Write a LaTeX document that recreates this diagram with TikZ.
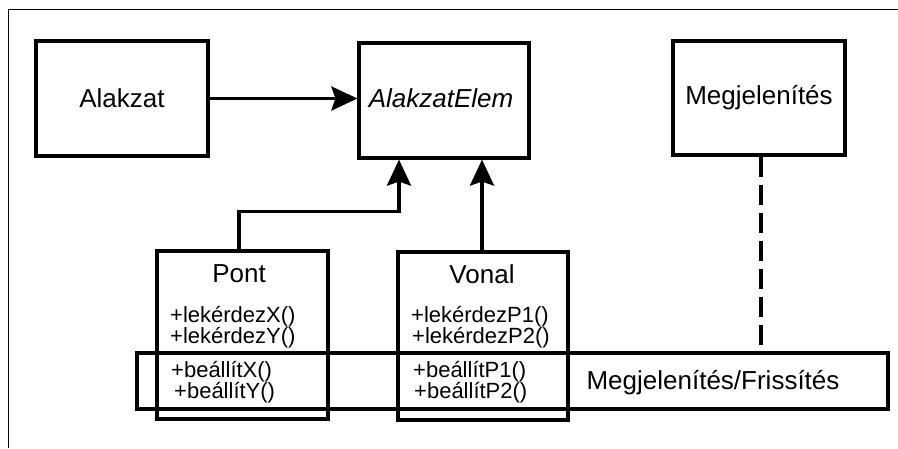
\documentclass[tikz,border=0pt]{standalone}
\usepackage{fontspec}
\setmainfont{Liberation Sans}
\usetikzlibrary{arrows.meta}
\begin{document}
\begin{tikzpicture}[x=1pt,y=-1pt,
  box/.style={draw, line width=3.2pt, inner sep=0pt, rectangle, font=\fontsize{26}{28}\selectfont},
  lbl/.style={inner sep=0pt, font=\fontsize{26}{28}\selectfont},
  meth/.style={inner sep=0pt, anchor=west, font=\fontsize{22}{24}\selectfont},
  conn/.style={line width=3.2pt, -{Stealth[length=26pt,width=24pt,inset=4pt]}},
  dep/.style={line width=3.2pt, dash pattern=on 20pt off 8pt}]
\useasboundingbox (0,0) rectangle (898,448);
\draw[line width=1pt] (8,448) -- (8,9) -- (898,9);
\node[box, minimum width=172pt, minimum height=115pt] (alakzat) at (122,98.5) {Alakzat};
\node[box, minimum width=170pt, minimum height=115pt] (elem) at (444,100.5) {};
\node[lbl] (elemtext) at (441,98) {\itshape AlakzatElem};
\node[box, minimum width=172pt, minimum height=114pt] (megj) at (759,98) {Megjelenítés};
\node[box, minimum width=171pt, minimum height=168pt] (pont) at (242.5,335) {};
\node[box, minimum width=170pt, minimum height=168pt] (vonal) at (483,336) {};
\node[box, minimum width=751pt, minimum height=56pt] (mf) at (512.5,381) {};
\node[lbl] (ponttitle) at (239,274) {Pont};
\node[lbl] (vonaltitle) at (482,274) {Vonal};
\node[meth] (p1) at (170,317) {+lekérdezX()};
\node[meth] (p2) at (170,338) {+lekérdezY()};
\node[meth] (p3) at (171,372) {+beállítX()};
\node[meth] (p4) at (174,393) {+beállítY()};
\node[meth] (v1) at (411,317) {+lekérdezP1()};
\node[meth] (v2) at (412,338) {+lekérdezP2()};
\node[meth] (v3) at (413,372) {+beállítP1()};
\node[meth] (v4) at (414,393) {+beállítP2()};
\node[lbl] (mftext) at (713,383) {Megjelenítés/Frissítés};
\draw[conn] (alakzat.east) -- (alakzat.east -| elem.west);
\draw[conn] ([xshift=-3.5pt]pont.north) -- ++(0,-38) -| ([xshift=-45pt]elem.south);
\draw[conn] ([xshift=-1pt]vonal.north) -- ([xshift=-1pt]vonal.north |- elem.south);
\draw[dep] ([xshift=2pt]megj.south) -- ([xshift=2pt]megj.south |- mf.north);
\end{tikzpicture}
\end{document}
